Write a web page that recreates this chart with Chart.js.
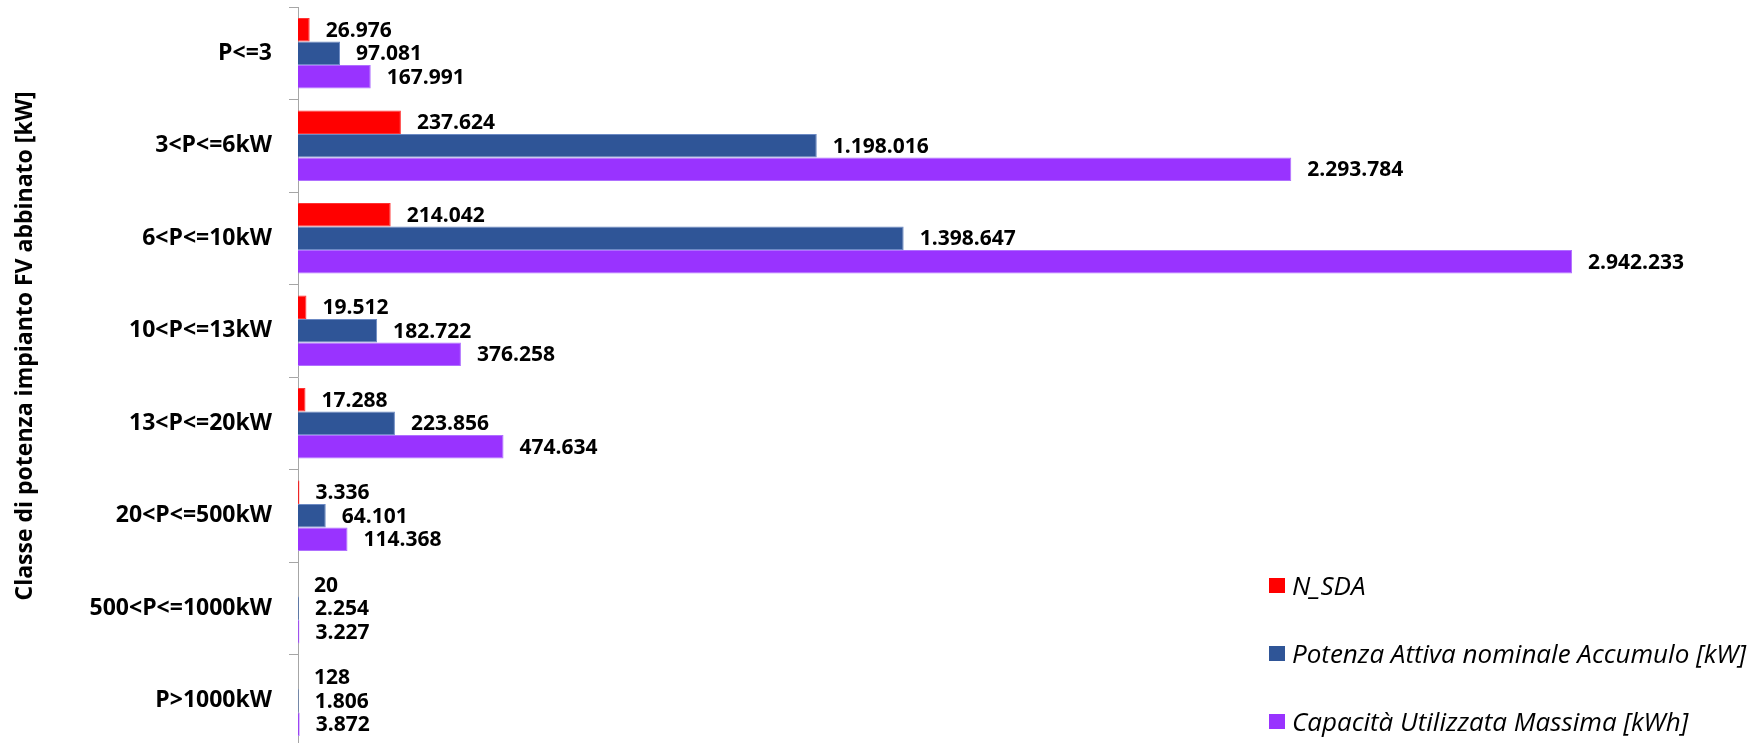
<!DOCTYPE html>
<html>
<head>
<meta charset="utf-8">
<script src="https://cdn.jsdelivr.net/npm/chart.js@4.4.1/dist/chart.umd.min.js"></script>
<style>
    html, body { margin: 0; padding: 0; background: #fff; overflow: hidden; }
    #wrap { position: relative; width: 1750px; height: 748px; }
    #legend { position: absolute; left: 1269px; top: 0; font-family: 'Open Sans', sans-serif; font-style: italic; font-size: 26px; color: #000; }
    #legend div { position: absolute; white-space: nowrap; display: flex; align-items: center; }
    #legend span.box { display: inline-block; width: 16px; height: 15px; margin-right: 7px; }
</style>
</head>
<body>
<div id="wrap">
    <canvas id="sdaChart"></canvas>
    <div id="legend"></div>
</div>
<script>
//DATI
const categories = ['P<=3', '3<P<=6kW', '6<P<=10kW', '10<P<=13kW', '13<P<=20kW', '20<P<=500kW', '500<P<=1000kW', 'P>1000kW'];
const nSda = [26976, 237624, 214042, 19512, 17288, 3336, 20, 128];
const potenzaAttiva = [97081, 1198016, 1398647, 182722, 223856, 64101, 2254, 1806];
const capacitaMassima = [167991, 2293784, 2942233, 376258, 474634, 114368, 3227, 3872];
const seriesLabels = ['N_SDA', 'Potenza Attiva nominale Accumulo [kW]', 'Capacità Utilizzata Massima [kWh]'];
const axisTitle = 'Classe di potenza impianto FV abbinato [kW]';

function formatIt(v) {
    return String(v).replace(/\B(?=(\d{3})+(?!\d))/g, '.');
}

//ETICHETTE
const valueLabels = {
    id: 'valueLabels',
    afterDatasetsDraw(chart) {
        const ctx = chart.ctx;
        ctx.save();
        ctx.font = 'bold 21px "Open Sans", sans-serif';
        ctx.fillStyle = '#000';
        ctx.textBaseline = 'middle';
        ctx.textAlign = 'left';
        chart.data.datasets.forEach((ds, i) => {
            chart.getDatasetMeta(i).data.forEach((bar, j) => {
                ctx.fillText(formatIt(ds.data[j]), bar.x + 16, bar.y + 1);
            });
        });
        ctx.restore();
    }
};

const sideTitle = {
    id: 'sideTitle',
    afterDraw(chart) {
        const ctx = chart.ctx;
        ctx.save();
        ctx.translate(25, 346);
        ctx.rotate(-Math.PI / 2);
        ctx.font = 'bold 23px "Open Sans", sans-serif';
        ctx.fillStyle = '#000';
        ctx.textAlign = 'center';
        ctx.textBaseline = 'middle';
        ctx.fillText(axisTitle, 0, 0);
        ctx.restore();
    }
};

const colors = ['#FF0000', '#2F5597', '#9933FF'];
const borders = ['#FF3333', '#6C8AC4', '#B070FF'];

const config = {
    type: 'bar',
    data: {
        labels: categories,
        datasets: [nSda, potenzaAttiva, capacitaMassima].map((d, i) => ({
            label: seriesLabels[i],
            data: d,
            backgroundColor: colors[i],
            borderColor: borders[i],
            borderWidth: 1,
            barPercentage: 1,
            categoryPercentage: 0.76
        }))
    },
    options: {
        indexAxis: 'y',
        responsive: true,
        maintainAspectRatio: false,
        animation: false,
        layout: { padding: { top: 7, right: 10, bottom: 1, left: 0 } },
        plugins: {
            legend: { display: false },
            tooltip: { enabled: false }
        },
        scales: {
            x: {
                display: false,
                min: 0,
                max: 3330000
            },
            y: {
                afterFit(scale) {
                    scale.width = 298;
                    scale.paddingTop = 0;
                    scale.paddingBottom = 0;
                },
                border: { display: true, color: '#A6A6A6', width: 1 },
                grid: {
                    display: true,
                    drawOnChartArea: false,
                    drawTicks: true,
                    tickLength: 9,
                    color: '#A6A6A6'
                },
                ticks: {
                    padding: 17,
                    color: '#000',
                    font: { family: 'Open Sans', weight: 'bold', size: 23 }
                }
            }
        }
    },
    plugins: [valueLabels, sideTitle]
};

const ctx = document.getElementById('sdaChart').getContext('2d');
new Chart(ctx, config);

//LEGENDA
const legend = document.getElementById('legend');
const legendY = [585, 653, 721];
seriesLabels.forEach((lab, i) => {
    const item = document.createElement('div');
    item.style.top = (legendY[i] - 18) + 'px';
    item.style.height = '36px';
    item.innerHTML = '<span class="box" style="background:' + colors[i] + '"></span><span></span>';
    item.lastChild.textContent = lab;
    legend.appendChild(item);
});
</script>
</body>
</html>
